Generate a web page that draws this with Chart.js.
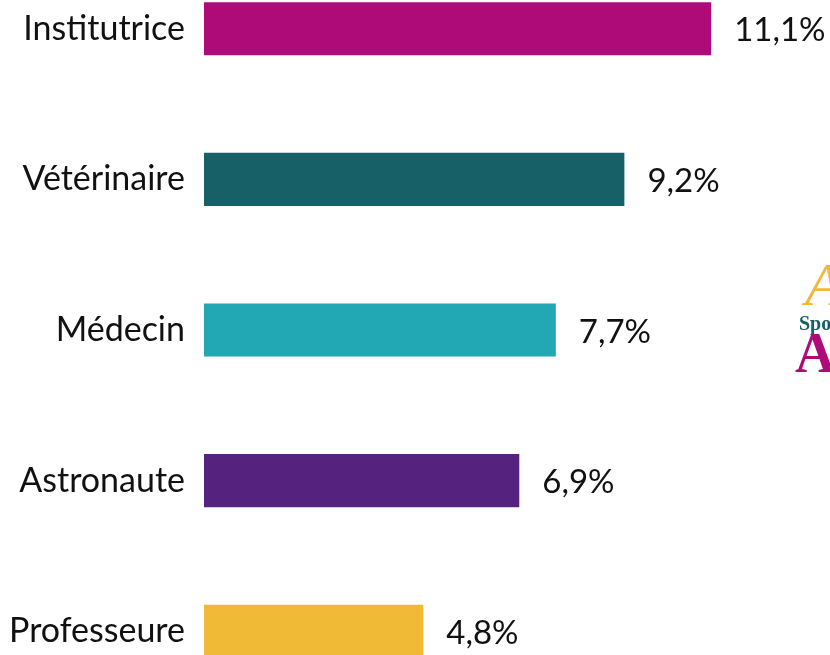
<!DOCTYPE html>
<html>
<head>
<meta charset="utf-8">
<script src="https://cdn.jsdelivr.net/npm/chart.js@4"></script>
<style>
    html, body { margin: 0; padding: 0; background: #fff; overflow: hidden; }
    body { width: 830px; height: 655px; position: relative; }
    #wrap { position: absolute; left: 0; top: -78px; width: 830px; height: 816px; }
</style>
</head>
<body>
<div id="wrap"><canvas id="bar-chart" width="830" height="816"></canvas></div>
<script>
// data
const metiers = ['Institutrice', 'Vétérinaire', 'Médecin', 'Astronaute', 'Professeure'];
const pourcentages = [11.1, 9.2, 7.7, 6.9, 4.8];
const couleurs = ['#ae0a78', '#176068', '#21a8b4', '#55237d', '#f0b936'];

const FONT = 'Lato';
const TOP = 78; // wrapper offset, used for the logo text

// value labels at the end of each bar ("11,1%")
const valueLabels = {
    id: 'valueLabels',
    afterDatasetsDraw(chart) {
        const ctx = chart.ctx;
        const meta = chart.getDatasetMeta(0);
        ctx.save();
        ctx.font = '33px ' + FONT;
        ctx.fillStyle = '#111';
        ctx.textAlign = 'left';
        ctx.textBaseline = 'middle';
        meta.data.forEach((bar, i) => {
            const txt = pourcentages[i].toFixed(1).replace('.', ',') + '%';
            ctx.fillText(txt, bar.x + 23, bar.y + 2);
        });
        ctx.restore();
    }
};

// bit of the logo cut off on the right edge
const logo = {
    id: 'logo',
    afterDraw(chart) {
        const ctx = chart.ctx;
        ctx.save();
        ctx.textAlign = 'left';
        ctx.textBaseline = 'alphabetic';
        ctx.font = 'italic 62px "Liberation Serif"';
        ctx.fillStyle = '#f0b936';
        ctx.fillText('A', 805, TOP + 305);
        ctx.font = 'bold 20px "Liberation Serif"';
        ctx.fillStyle = '#176068';
        ctx.fillText('Spo', 799, TOP + 330);
        ctx.font = 'bold 56px "Liberation Serif"';
        ctx.fillStyle = '#ae0a78';
        ctx.fillText('A', 795, TOP + 372);
        ctx.restore();
    }
};

new Chart(document.getElementById('bar-chart').getContext('2d'), {
    type: 'bar',
    data: {
        labels: metiers,
        datasets: [{
            data: pourcentages,
            backgroundColor: couleurs,
            borderWidth: 0,
            barPercentage: 0.353,
            categoryPercentage: 1
        }]
    },
    options: {
        indexAxis: 'y',
        responsive: false,
        animation: false,
        layout: { padding: 0 },
        plugins: {
            legend: { display: false },
            tooltip: { enabled: false }
        },
        scales: {
            x: {
                display: false,
                min: 0,
                max: 13.7
            },
            y: {
                afterFit(scale) { scale.width = 204; },
                grid: { display: false },
                border: { display: false },
                ticks: {
                    padding: 11,
                    color: '#111',
                    font: { size: 34, family: FONT }
                }
            }
        }
    },
    plugins: [valueLabels, logo]
});
</script>
</body>
</html>
